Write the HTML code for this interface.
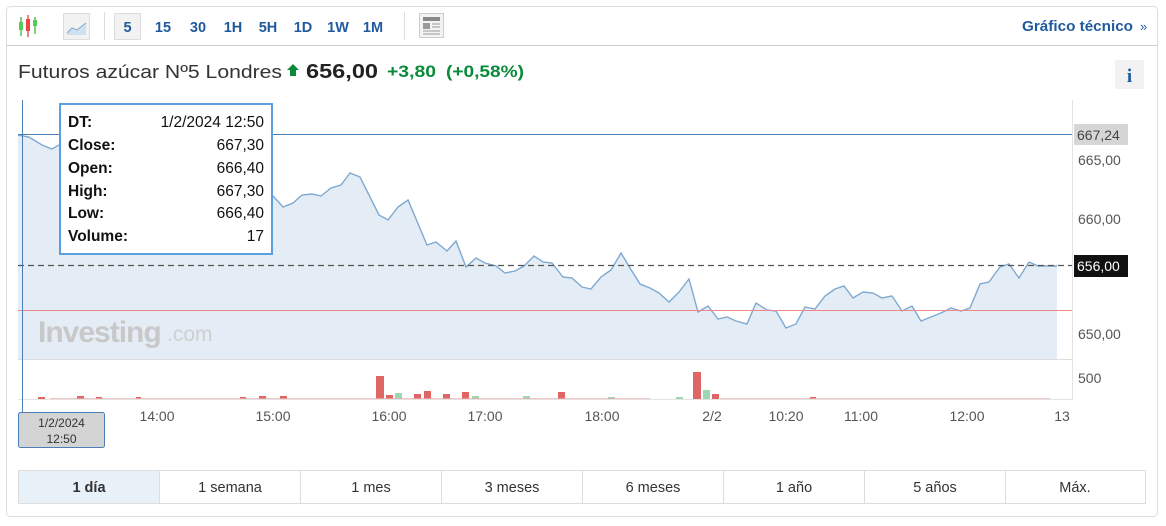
<!DOCTYPE html>
<html><head><meta charset="utf-8"><style>
body{margin:0;background:#fff;width:1166px;height:526px;overflow:hidden;font-family:"Liberation Sans",sans-serif;}
svg{position:absolute;left:0;top:0}
</style></head><body>
<svg width="1166" height="526" viewBox="0 0 1166 526" font-family="Liberation Sans, sans-serif">
<rect x="6.5" y="6.5" width="1151" height="510" rx="4" fill="#fff" stroke="#ddd"/>
<line x1="7" y1="45.5" x2="1157" y2="45.5" stroke="#ccc"/>
<g stroke-width="1.2">
<line x1="21" y1="17" x2="21" y2="36" stroke="#3a3"/><rect x="19" y="22" width="4" height="8" fill="#5c5"/>
<line x1="28" y1="15" x2="28" y2="37" stroke="#c33"/><rect x="26" y="19" width="4" height="12" fill="#e44"/>
<line x1="35" y1="17" x2="35" y2="34" stroke="#3a3"/><rect x="33" y="20" width="4" height="6" fill="#5c5"/>
</g>
<rect x="63.5" y="13.5" width="26" height="26" fill="#f2f2f2" stroke="#ddd"/>
<path d="M67 34 L72 29 L77 31 L86 24 L86 35 L67 35Z" fill="#cfe0f0"/><path d="M67 33 L72 28 L77 30 L86 23" stroke="#7aa6cf" fill="none"/>
<line x1="104.5" y1="12" x2="104.5" y2="40" stroke="#ddd"/>
<rect x="114.5" y="13.5" width="26" height="26" fill="#f2f2f2" stroke="#ddd"/>
<g fill="#1f5a9e" font-weight="bold" font-size="14.5">
<text x="127.5" y="32" text-anchor="middle">5</text>
<text x="163" y="32" text-anchor="middle">15</text>
<text x="198" y="32" text-anchor="middle">30</text>
<text x="233" y="32" text-anchor="middle">1H</text>
<text x="268" y="32" text-anchor="middle">5H</text>
<text x="303" y="32" text-anchor="middle">1D</text>
<text x="338" y="32" text-anchor="middle">1W</text>
<text x="373" y="32" text-anchor="middle">1M</text>
<text x="1022" y="31" textLength="111" lengthAdjust="spacingAndGlyphs">Gráfico técnico</text>
</g>
<text x="1140" y="31" font-size="13" fill="#1f5a9e">»</text>
<line x1="404.5" y1="12" x2="404.5" y2="40" stroke="#ddd"/>
<rect x="419.5" y="13.5" width="24" height="24" fill="#f3f3f3" stroke="#ccc"/>
<rect x="423" y="17" width="17" height="4" fill="#888"/><rect x="423" y="23" width="7" height="6" fill="#999"/>
<line x1="432" y1="24" x2="440" y2="24" stroke="#999"/><line x1="432" y1="27" x2="440" y2="27" stroke="#999"/><line x1="423" y1="31" x2="440" y2="31" stroke="#999"/><line x1="423" y1="34" x2="440" y2="34" stroke="#999"/>
<text x="18" y="78" font-size="18.5" fill="#333" textLength="264" lengthAdjust="spacingAndGlyphs">Futuros azúcar Nº5 Londres</text>
<path d="M293 64 L299 70 L296 70 L296 76 L290 76 L290 70 L287 70Z" fill="#0a8a3a"/>
<text x="306" y="78" font-size="20" font-weight="bold" fill="#222" textLength="72" lengthAdjust="spacingAndGlyphs">656,00</text>
<text x="387" y="77" font-size="16.5" font-weight="bold" fill="#0a8a3a" textLength="49" lengthAdjust="spacingAndGlyphs">+3,80</text>
<text x="446" y="77" font-size="16.5" font-weight="bold" fill="#0a8a3a" textLength="78" lengthAdjust="spacingAndGlyphs">(+0,58%)</text>
<rect x="1115" y="60" width="29" height="29" fill="#f2f2f2"/>
<text x="1129.5" y="82" font-size="19" font-weight="bold" fill="#1f5a9e" text-anchor="middle" font-family="Liberation Serif, serif">i</text>
<line x1="1072.5" y1="100" x2="1072.5" y2="400" stroke="#e3e3e3"/>
<line x1="18" y1="359.5" x2="1072" y2="359.5" stroke="#ddd"/>
<line x1="18" y1="399.5" x2="1072" y2="399.5" stroke="#e3e3e3"/>
<polygon fill="#e4edf5" points="18,135 29,137 42,145 52,149 59,145 70,150 90,160 110,165 130,168 150,162 170,155 190,140 210,138 230,160 250,180 265,190 274,197 283,207 293,203 302,195 312,194 321,196 331,188 341,185 350,173 360,177 379,215 388,220 398,207 408,200 427,245 436,242 447,251 456,241 466,267 476,258 485,263 496,266 505,273 515,271 524,266 534,256 543,262 552,263 563,277 572,278 582,287 591,289 601,277 611,270 621,253 630,268 640,284 650,288 659,293 669,302 679,292 689,279 698,312 708,306 718,319 727,317 736,321 747,324 756,303 767,310 776,311 786,328 796,324 805,307 815,309 825,296 835,289 844,286 853,298 863,292 873,293 882,298 892,296 902,311 912,306 921,321 931,317 941,313 951,308 961,311 970,308 980,284 989,282 1000,267 1009,264 1019,278 1029,262 1038,266 1057,266 1057,359 18,359"/>
<polyline fill="none" stroke="#7fa9d1" stroke-width="1.4" points="18,135 29,137 42,145 52,149 59,145 70,150 90,160 110,165 130,168 150,162 170,155 190,140 210,138 230,160 250,180 265,190 274,197 283,207 293,203 302,195 312,194 321,196 331,188 341,185 350,173 360,177 379,215 388,220 398,207 408,200 427,245 436,242 447,251 456,241 466,267 476,258 485,263 496,266 505,273 515,271 524,266 534,256 543,262 552,263 563,277 572,278 582,287 591,289 601,277 611,270 621,253 630,268 640,284 650,288 659,293 669,302 679,292 689,279 698,312 708,306 718,319 727,317 736,321 747,324 756,303 767,310 776,311 786,328 796,324 805,307 815,309 825,296 835,289 844,286 853,298 863,292 873,293 882,298 892,296 902,311 912,306 921,321 931,317 941,313 951,308 961,311 970,308 980,284 989,282 1000,267 1009,264 1019,278 1029,262 1038,266 1057,266"/>
<line x1="18" y1="310.5" x2="1072" y2="310.5" stroke="#e88" stroke-width="1"/>
<line x1="18" y1="265.5" x2="1072" y2="265.5" stroke="#555" stroke-dasharray="6,4" stroke-width="1.2"/>
<line x1="18" y1="134.5" x2="1072" y2="134.5" stroke="#4a7fb5"/>
<line x1="22.5" y1="100" x2="22.5" y2="412" stroke="#4a7fb5"/>
<text x="38" y="342" font-size="30" font-weight="bold" fill="#c8c8c8" letter-spacing="-1">Investing</text>
<text x="167" y="341" font-size="21" fill="#cfcfcf">.com</text>
<g fill="#e06666">
<rect x="38" y="397" width="7" height="2"/><rect x="77" y="396" width="7" height="3"/><rect x="96" y="397" width="6" height="2"/><rect x="136" y="397" width="5" height="2"/>
<rect x="240" y="397" width="6" height="2"/><rect x="259" y="396" width="7" height="3"/><rect x="280" y="396" width="7" height="3"/>
<rect x="376" y="376" width="8" height="23"/><rect x="386" y="395" width="7" height="4"/><rect x="414" y="394" width="7" height="5"/><rect x="424" y="391" width="7" height="8"/>
<rect x="443" y="394" width="7" height="5"/><rect x="462" y="392" width="7" height="7"/><rect x="558" y="392" width="7" height="7"/>
<rect x="693" y="372" width="8" height="27"/><rect x="712" y="394" width="7" height="5"/><rect x="810" y="397" width="6" height="2"/>
</g>
<g fill="#9fd6b2">
<rect x="395" y="393" width="7" height="6"/><rect x="472" y="396" width="7" height="3"/><rect x="523" y="396" width="7" height="3"/>
<rect x="608" y="397" width="7" height="2"/><rect x="703" y="390" width="7" height="9"/><rect x="676" y="397" width="7" height="2"/>
</g>
<g fill="#eaa" opacity="0.7"><rect x="50" y="398" width="600" height="1"/><rect x="720" y="398" width="330" height="1"/></g>
<g font-size="14" fill="#555">
<text x="1078" y="165">665,00</text>
<text x="1078" y="224">660,00</text>
<text x="1078" y="339">650,00</text>
<text x="1078" y="383">500</text>
<text x="157" y="421" text-anchor="middle">14:00</text>
<text x="273" y="421" text-anchor="middle">15:00</text>
<text x="389" y="421" text-anchor="middle">16:00</text>
<text x="485" y="421" text-anchor="middle">17:00</text>
<text x="602" y="421" text-anchor="middle">18:00</text>
<text x="712" y="421" text-anchor="middle">2/2</text>
<text x="786" y="421" text-anchor="middle">10:20</text>
<text x="861" y="421" text-anchor="middle">11:00</text>
<text x="967" y="421" text-anchor="middle">12:00</text>
<text x="1062" y="421" text-anchor="middle">13</text>
</g>
<rect x="1074" y="124" width="54" height="21" fill="#d6d6d6"/>
<text x="1077" y="140" font-size="14" fill="#444">667,24</text>
<rect x="1074" y="255" width="54" height="22" fill="#111"/>
<text x="1077" y="271" font-size="14" fill="#fff">656,00</text>
<rect x="18.5" y="412.5" width="86" height="35" rx="2" fill="#d4d4d4" stroke="#4a7fb5"/>
<text x="61.5" y="427" font-size="12" fill="#333" text-anchor="middle">1/2/2024</text>
<text x="61.5" y="443" font-size="12" fill="#333" text-anchor="middle">12:50</text>
<rect x="60" y="104" width="212" height="150" fill="#fff" stroke="#5aa0e0" stroke-width="2"/>
<g font-size="15.5" fill="#111">
<text x="68" y="127" font-weight="bold">DT:</text><text x="264" y="127" text-anchor="end">1/2/2024 12:50</text>
<text x="68" y="150" font-weight="bold">Close:</text><text x="264" y="150" text-anchor="end">667,30</text>
<text x="68" y="173" font-weight="bold">Open:</text><text x="264" y="173" text-anchor="end">666,40</text>
<text x="68" y="196" font-weight="bold">High:</text><text x="264" y="196" text-anchor="end">667,30</text>
<text x="68" y="218" font-weight="bold">Low:</text><text x="264" y="218" text-anchor="end">666,40</text>
<text x="68" y="241" font-weight="bold">Volume:</text><text x="264" y="241" text-anchor="end">17</text>
</g>
<rect x="18.5" y="470.5" width="1127" height="33" fill="#fff" stroke="#ddd"/>
<rect x="19" y="471" width="140" height="32" fill="#e8f0f8"/>
<g stroke="#ddd"><line x1="159.5" y1="470" x2="159.5" y2="503"/><line x1="300.5" y1="470" x2="300.5" y2="503"/><line x1="441.5" y1="470" x2="441.5" y2="503"/><line x1="582.5" y1="470" x2="582.5" y2="503"/><line x1="723.5" y1="470" x2="723.5" y2="503"/><line x1="864.5" y1="470" x2="864.5" y2="503"/><line x1="1005.5" y1="470" x2="1005.5" y2="503"/></g>
<g font-size="14.5" fill="#333" text-anchor="middle">
<text x="89" y="492" font-weight="bold">1 día</text>
<text x="230" y="492">1 semana</text>
<text x="371" y="492">1 mes</text>
<text x="512" y="492">3 meses</text>
<text x="653" y="492">6 meses</text>
<text x="794" y="492">1 año</text>
<text x="935" y="492">5 años</text>
<text x="1075" y="492">Máx.</text>
</g>
</svg>
</body></html>
